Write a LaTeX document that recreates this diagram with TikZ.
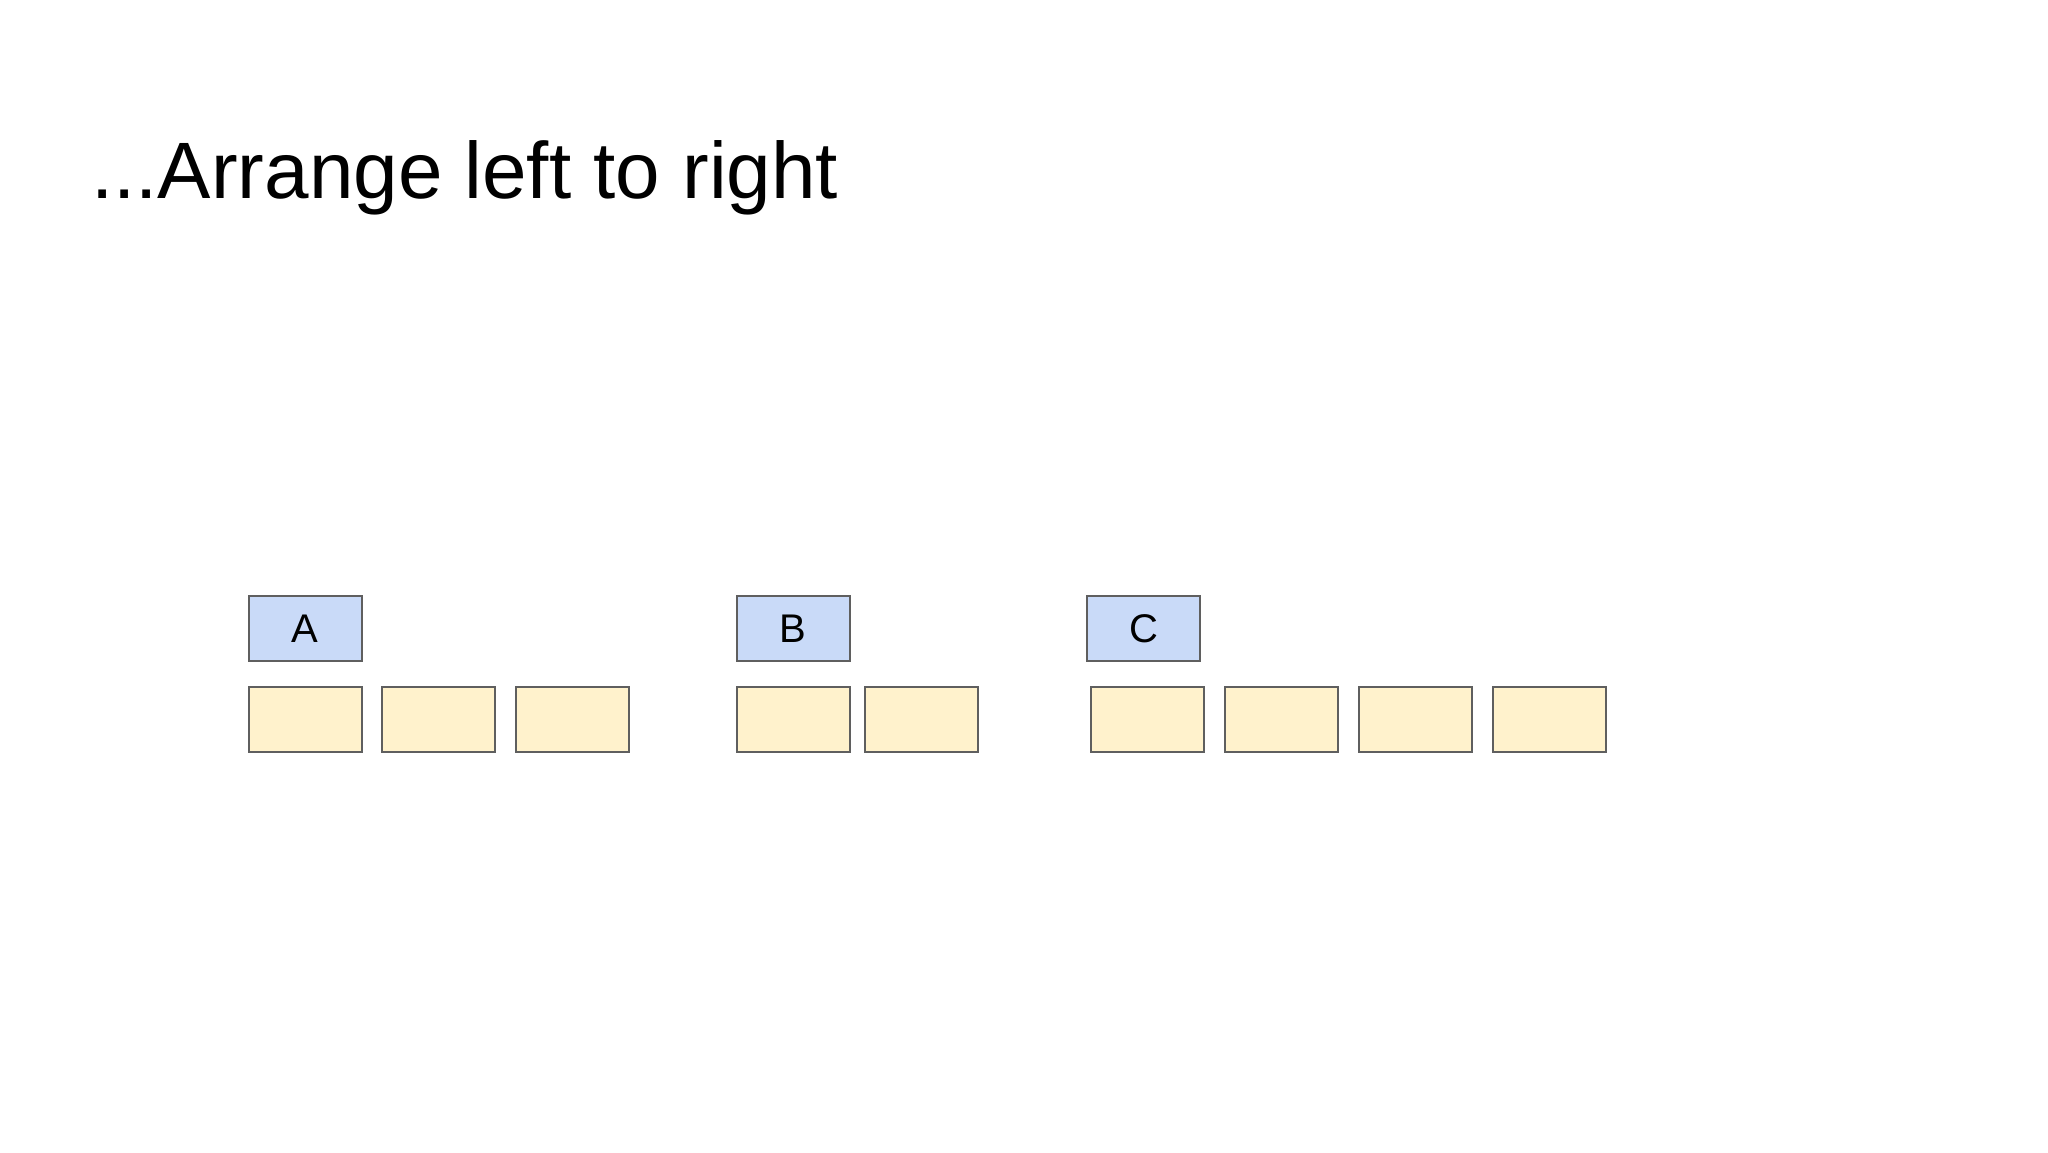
\documentclass[tikz,border=0pt]{standalone}
\usepackage{fontspec}
\setmainfont{Liberation Sans}
\definecolor{hdrblue}{HTML}{C9DAF8}
\definecolor{itemyellow}{HTML}{FFF2CC}
\definecolor{edgegray}{HTML}{5F5F5F}
\begin{document}
\begin{tikzpicture}[x=1pt,y=-1pt,
  hdr/.style={draw=edgegray,fill=hdrblue,line width=2pt,minimum width=113pt,minimum height=65pt,inner sep=0pt,font=\fontsize{40}{46}\selectfont,text=black},
  item/.style={draw=edgegray,fill=itemyellow,line width=2pt,minimum width=113pt,minimum height=65pt,inner sep=0pt}]
\useasboundingbox[fill=white] (0,0) rectangle (2048,1152);
\node[anchor=base west,inner sep=0pt,font=\fontsize{80}{96}\selectfont] (title) at (91,198) {...Arrange left to right};
\node[hdr] (A) at (305,628.5) {A};
\node[hdr] (B) at (793,628.5) {B};
\node[hdr] (C) at (1143.5,628.5) {C};
\node[item] (a1) at (305,719) {};
\node[item] (a2) at (438.5,719) {};
\node[item] (a3) at (572.5,719) {};
\node[item] (b1) at (793,719) {};
\node[item] (b2) at (921,719) {};
\node[item] (c1) at (1147,719) {};
\node[item] (c2) at (1281,719) {};
\node[item] (c3) at (1415,719) {};
\node[item] (c4) at (1549.4,719) {};
\end{tikzpicture}
\end{document}
